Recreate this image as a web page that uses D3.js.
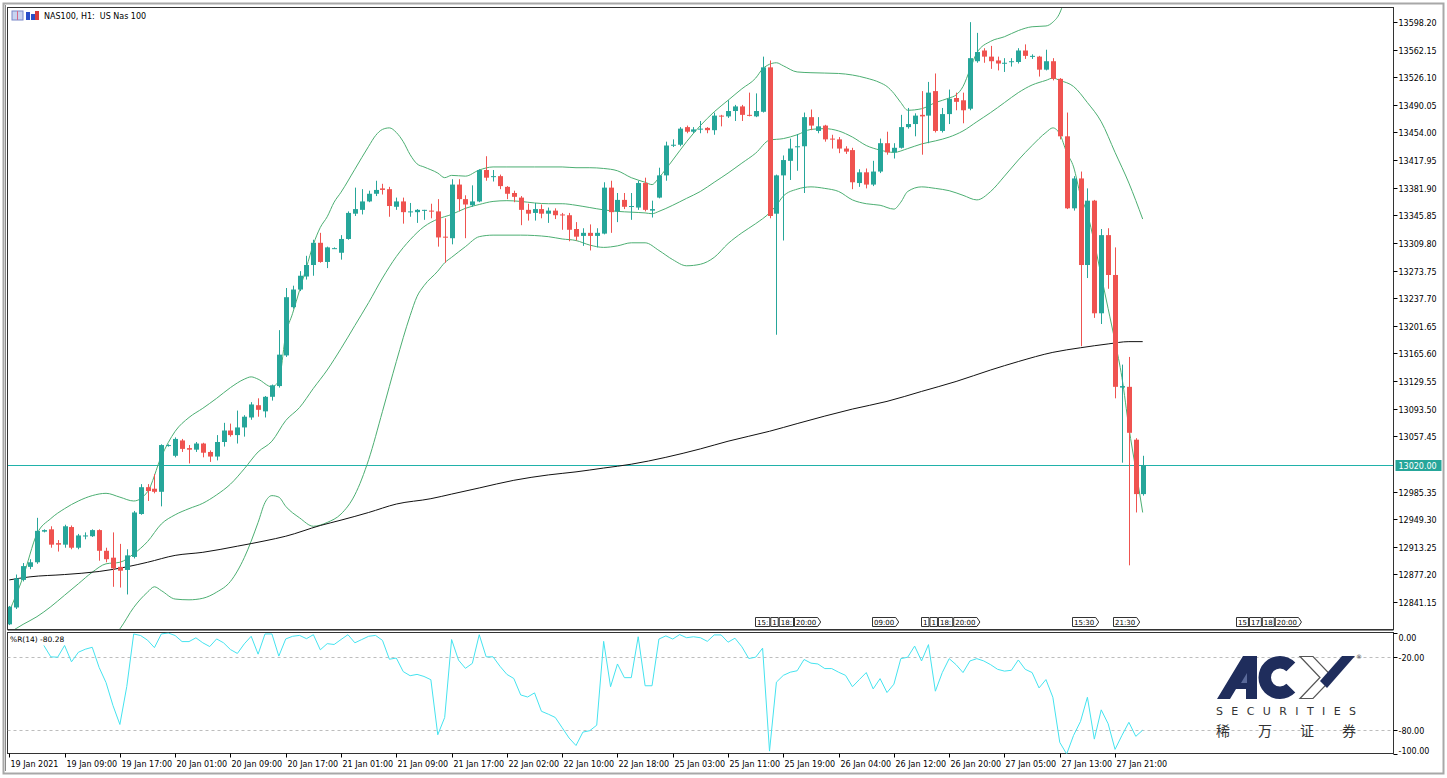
<!DOCTYPE html>
<html><head><meta charset="utf-8">
<script src="https://cdn.jsdelivr.net/npm/d3@7"></script>
<style>
html,body{margin:0;padding:0;background:#fff;}
svg{display:block;font-family:"DejaVu Sans",Tahoma,sans-serif;}
text{white-space:pre;}
</style></head><body>
<svg id="chart" width="1447" height="778"></svg>
<script>
// ---------- DATA ----------
const symbolTitle = "NAS100, H1:  US Nas 100";
const openP = [
12812,12834,12870,12887,12893,12933,12936,12918,12916,12939,
12912,12927,12927,12935,12908,12899,12887,12883,12900,12956,
12991,12989,12985,13045,13032,13052,13042,13040,13048,13037,
13031,13050,13065,13059,13069,13082,13098,13090,13109,13123,
13163,13226,13249,13266,13281,13310,13285,13303,13297,13315,
13348,13353,13364,13374,13381,13380,13357,13364,13350,13350,
13352,13352,13351,13318,13316,13386,13367,13359,13364,13405,
13396,13397,13383,13375,13369,13353,13349,13354,13348,13352,
13347,13346,13328,13319,13323,13319,13322,13382,13351,13366,
13357,13356,13388,13352,13369,13398,13437,13438,13461,13455,
13458,13460,13457,13476,13475,13482,13488,13477,13475,13481,
13539,13348,13398,13417,13435,13436,13474,13456,13463,13446,
13445,13433,13431,13388,13402,13386,13403,13440,13428,13434,
13461,13465,13477,13476,13508,13456,13478,13499,13496,13485,
13547,13561,13553,13548,13544,13546,13546,13561,13553,13553,
13536,13547,13524,13449,13355,13394,13281,13365,13218,13320,
13268,13121,13122,13053,12982];
const highP = [
12836,12877,12892,12897,12951,12936,12940,12922,12942,12941,
12930,12932,12936,12936,12912,12932,12917,12910,12960,12995,
12995,13008,13047,13047,13056,13054,13046,13050,13049,13039,
13059,13075,13074,13091,13085,13102,13107,13110,13125,13196,
13251,13254,13273,13293,13314,13323,13305,13304,13320,13351,
13382,13380,13378,13391,13387,13383,13369,13369,13362,13354,
13353,13361,13367,13342,13393,13393,13372,13385,13406,13423,
13405,13399,13384,13378,13371,13361,13362,13360,13356,13355,
13349,13349,13337,13329,13334,13329,13389,13391,13375,13375,
13375,13391,13395,13365,13408,13442,13445,13461,13463,13461,
13469,13461,13480,13477,13496,13490,13490,13506,13505,13553,
13548,13399,13424,13446,13452,13480,13484,13474,13464,13451,
13448,13436,13434,13406,13407,13417,13446,13455,13440,13477,
13486,13479,13508,13520,13531,13486,13510,13506,13506,13598,
13584,13564,13567,13553,13551,13551,13564,13569,13556,13554,
13562,13551,13525,13480,13397,13403,13381,13366,13328,13329,
13304,13151,13161,13055,13032];
const lowP = [
12811,12832,12868,12884,12891,12932,12912,12907,12912,12910,
12910,12923,12926,12895,12893,12861,12860,12851,12898,12955,
12973,12983,12966,13044,13030,13037,13022,13037,13030,13024,
13026,13044,13057,13048,13057,13079,13083,13082,13104,13121,
13161,13224,13247,13262,13267,13284,13277,13302,13288,13314,
13345,13347,13363,13371,13373,13344,13353,13335,13344,13336,
13340,13342,13305,13284,13308,13351,13316,13357,13363,13391,
13390,13380,13367,13363,13333,13339,13339,13342,13336,13341,
13327,13312,13313,13306,13300,13304,13321,13323,13337,13354,
13340,13353,13351,13343,13368,13391,13435,13436,13453,13453,
13453,13453,13451,13462,13473,13469,13469,13475,13474,13480,
13342,13190,13313,13392,13404,13375,13457,13453,13442,13433,
13427,13426,13380,13383,13381,13384,13401,13425,13420,13433,
13459,13449,13425,13440,13454,13454,13465,13483,13466,13483,
13545,13545,13537,13535,13533,13540,13544,13550,13550,13527,
13535,13522,13445,13354,13352,13175,13264,13212,13204,13250,
13107,13023,12889,12958,12980];
const closeP = [
12835,12872,12888,12893,12934,12935,12916,12916,12940,12912,
12928,12928,12935,12908,12897,12885,12882,12902,12958,12991,
12986,12985,13046,13046,13054,13041,13040,13048,13036,13031,
13050,13065,13059,13069,13083,13099,13092,13109,13124,13164,
13239,13249,13267,13281,13310,13285,13304,13303,13315,13349,
13354,13364,13374,13379,13379,13358,13364,13350,13351,13353,
13353,13351,13317,13317,13386,13367,13360,13364,13405,13395,
13397,13384,13374,13370,13353,13348,13354,13348,13352,13346,
13346,13327,13318,13323,13319,13323,13382,13350,13366,13357,
13358,13388,13353,13354,13398,13437,13438,13459,13455,13458,
13459,13457,13476,13475,13482,13488,13477,13476,13482,13539,
13345,13398,13418,13433,13436,13474,13463,13462,13445,13445,
13433,13429,13389,13402,13386,13403,13440,13428,13434,13461,
13465,13476,13475,13506,13456,13478,13498,13494,13483,13551,
13559,13553,13547,13544,13545,13547,13561,13554,13554,13536,
13547,13524,13449,13355,13394,13281,13365,13218,13320,13268,
13122,13123,13062,12982,13020];

// Bollinger Bands (20) read at [bar, price]
const bbUpper = [[0,12829],[2,12874],[4,12930],[6,12950],[8,12963],[10,12973],[12,12980],[14,12983],[16,12978],[18,12973],[20,12985],[22,13031],[24,13064],[26,13082],[28,13094],[30,13107],[32,13121],[34,13132],[35,13135],[36,13132],[38,13122],[39,13130],[40,13190],[41,13218],[42,13248],[43,13278],[44,13308],[45,13330],[46,13344],[47,13363],[48,13376],[50,13406],[52,13436],[53,13450],[54,13458],[55,13460],[56,13454],[57,13442],[58,13425],[59,13413],[60,13409],[62,13401],[63,13395],[64,13398],[66,13397],[68,13405],[70,13409],[72,13409],[76,13409],[80,13409],[82,13408],[84,13408],[86,13407],[88,13404],[90,13395],[92,13389],[93,13386],[94,13395],[96,13418],[98,13442],[100,13463],[102,13481],[104,13496],[106,13511],[108,13525],[109,13537],[110,13543],[111,13545],[112,13541],[114,13533],[116,13532],[120,13531],[122,13529],[124,13525],[126,13519],[127,13514],[128,13505],[129,13493],[130,13483],[132,13485],[134,13493],[136,13499],[137,13503],[138,13514],[139,13536],[140,13558],[142,13573],[144,13579],[146,13587],[148,13592],[150,13593],[151,13598],[152,13610],[153,13638],[154,13680]];
const bbMiddle = [[0,12801],[2,12812],[4,12822],[6,12835],[8,12850],[10,12865],[12,12880],[14,12891],[16,12893],[18,12904],[20,12920],[22,12943],[24,12955],[26,12963],[28,12970],[30,12981],[32,12995],[34,13015],[36,13037],[38,13051],[40,13078],[42,13095],[44,13120],[46,13144],[48,13172],[50,13202],[52,13232],[54,13264],[56,13292],[58,13314],[60,13331],[62,13341],[64,13347],[66,13355],[68,13360],[70,13364],[72,13365],[74,13364],[76,13362],[78,13361],[80,13361],[82,13359],[84,13356],[86,13353],[88,13351],[90,13350],[92,13349],[93,13348],[94,13351],[96,13359],[98,13368],[100,13377],[102,13389],[104,13401],[106,13414],[108,13427],[110,13444],[112,13446],[114,13451],[116,13458],[118,13459],[120,13456],[122,13448],[124,13437],[126,13431],[128,13428],[130,13433],[132,13439],[134,13443],[136,13448],[138,13456],[140,13468],[142,13480],[144,13493],[146,13506],[148,13516],[150,13522],[151,13525],[152,13522],[154,13514],[156,13493],[158,13468],[160,13428],[162,13388],[164,13341]];
const bbLower = [[15,12795],[16,12806],[18,12834],[20,12854],[21,12861],[22,12856],[24,12845],[26,12844],[28,12846],[30,12854],[32,12868],[34,12899],[36,12945],[37,12971],[38,12980],[39,12978],[40,12966],[42,12951],[44,12940],[46,12945],[48,12956],[50,12981],[52,13027],[54,13090],[56,13155],[58,13215],[59,13240],[60,13254],[62,13273],[63,13284],[64,13291],[66,13305],[68,13318],[70,13320],[74,13320],[78,13318],[80,13315],[82,13313],[84,13307],[86,13304],[88,13306],[90,13310],[92,13310],[94,13300],[96,13288],[98,13280],[100,13282],[102,13291],[104,13309],[106,13323],[108,13335],[110,13349],[111,13359],[112,13371],[114,13380],[116,13383],[118,13381],[120,13377],[122,13366],[124,13361],[126,13359],[128,13354],[129,13363],[130,13377],[132,13383],[134,13381],[136,13378],[138,13372],[140,13366],[142,13377],[144,13397],[146,13418],[148,13437],[150,13454],[151,13460],[152,13452],[153,13428],[154,13409],[155,13372],[156,13348],[157,13310],[158,13267],[159,13224],[160,13181],[161,13134],[162,13069],[163,13014],[164,12958]];
// Moving average (200) read at [bar, price]
const ma200 = [[0,12870],[3,12874],[8,12877],[13,12881],[17,12887],[20,12893],[24,12902],[28,12906],[33,12914],[37,12921],[40,12927],[45,12941],[48,12948],[52,12958],[56,12969],[61,12976],[64,12982],[68,12990],[73,13000],[78,13007],[82,13011],[86,13016],[90,13021],[95,13030],[100,13041],[104,13051],[110,13064],[114,13074],[122,13093],[127,13103],[132,13116],[137,13129],[142,13144],[146,13155],[151,13167],[155,13173],[159,13178],[162,13181],[164,13181]];
// Williams %R(14), from bar 5
const wprStartBar = 5;
const wprValues = [
-10.3,-19.7,-20,-10.3,-23.8,-15.9,-13.4,-11.8,-28.5,-41,
-59.9,-75.6,-44.2,-0.8,-2.1,-5.9,-12.1,-0.8,0,-2.1,
-7.1,-7.1,-4,-8.1,-11.2,-4.9,-8.1,-13.7,-16.9,-9,
-2.7,-17.5,-0.8,-0.8,-19.1,-4.9,-2.7,-2,-4.7,-1.4,
-13.9,-8.8,-9.5,-5.4,-1.4,-8.1,-5.4,-2.7,-2,-6.1,
-21.7,-20.7,-31.9,-35.3,-34.2,-35.9,-38.6,-84.1,-69.8,-5.4,
-22.4,-29.2,-25.1,-1.4,-19.7,-19.7,-27.5,-34.2,-37.6,-51.2,
-52.9,-49.5,-64.7,-67.1,-69.8,-78.3,-86.8,-93,-81.9,-80.7,
-76.2,-6.9,-44.4,-25.6,-36.9,-36.9,-3.1,-43.6,-43.6,-5,
-2.4,-5,-1.3,-3.9,-3.1,-3.9,-6.9,-1.6,-1.6,-7.6,
-4.3,-11.4,-21.1,-20,-12.5,-97.6,-40.6,-35,-32.4,-31.2,
-21.9,-24.9,-25.6,-29.4,-29.4,-32.4,-35,-44.4,-38.5,-32.7,
-46.2,-37.7,-49.2,-42.3,-21.2,-20,-10.8,-23.1,-9.6,-48.1,
-32.7,-21.2,-26.2,-32.7,-23.1,-21.2,-23.1,-26.2,-30,-31.5,
-30.8,-22.3,-30,-32.7,-45.4,-38.5,-53.1,-90.4,-100,-84.6,
-73.1,-53.1,-87.7,-63.5,-75,-96.2,-84.6,-73.8,-85.4,-80.28];
const wprLabel = "%R(14) -80.28";
const wprLevels = [-20, -80];
const wprAxisLabels = [[0,"0.00"],[-20,"-20.00"],[-80,"-80.00"],[-100,"-100.00"]];

const priceTicks = [13598.20,13562.15,13526.10,13490.05,13454.00,13417.95,13381.90,13345.85,13309.80,13273.75,13237.70,13201.65,13165.60,13129.55,13093.50,13057.45,12985.35,12949.30,12913.25,12877.20,12841.15];
const currentPrice = 13020.00;
const timeLabels = ["19 Jan 2021","19 Jan 09:00","19 Jan 17:00","20 Jan 01:00","20 Jan 09:00","20 Jan 17:00","21 Jan 01:00","21 Jan 09:00","21 Jan 17:00","22 Jan 02:00","22 Jan 10:00","22 Jan 18:00","25 Jan 03:00","25 Jan 11:00","25 Jan 19:00","26 Jan 04:00","26 Jan 12:00","26 Jan 20:00","27 Jan 05:00","27 Jan 13:00","27 Jan 21:00"];
const barsPerTimeLabel = 8;
const eventGroups = [
  {bar:107.9, labels:["15:","1","18:","20:00"]},
  {bar:124.8, labels:["09:00"]},
  {bar:131.9, labels:["1","1","18:","20:00"]},
  {bar:153.8, labels:["15:30"]},
  {bar:159.7, labels:["21:30"]},
  {bar:177.5, labels:["15","17","18","20:00"]}
];

// ---------- LAYOUT ----------
const svg = d3.select("#chart");
const L = 7.5, R = 1393.5, mainTop = 7.5, mainBot = 629.5, subTop = 632.5, subBot = 753.5;
const bull = "#26a69a", bear = "#ef5350", bandColor = "#4cae72", wprColor = "#45e3ef";

const x = d3.scaleLinear().domain([0, openP.length - 1]).range([9.3, 1142.7]);
const y = d3.scaleLinear().domain([12841.15, 13598.20]).range([602, 22]);
const yw = d3.scaleLinear().domain([-100, 0]).range([754, 633]);

svg.append("rect").attr("width",1447).attr("height",778).attr("fill","#fff");
const defs = svg.append("defs");
defs.append("clipPath").attr("id","clipMain").append("rect").attr("x",L).attr("y",mainTop).attr("width",R-L).attr("height",mainBot-mainTop);
defs.append("clipPath").attr("id","clipSub").append("rect").attr("x",L).attr("y",subTop).attr("width",R-L).attr("height",subBot-subTop);

// window frame
svg.append("rect").attr("x",3.5).attr("y",3.5).attr("width",1440).attr("height",770).attr("fill","none").attr("stroke","#a8a8a8").attr("stroke-width",2);
svg.append("rect").attr("x",1394).attr("y",5).attr("width",48).attr("height",766).attr("fill","#fff");

// ---------- MAIN PANEL ----------
const gMain = svg.append("g").attr("clip-path","url(#clipMain)");

// current price line
gMain.append("line").attr("x1",L).attr("x2",R).attr("y1",Math.round(y(currentPrice))+0.5).attr("y2",Math.round(y(currentPrice))+0.5)
  .attr("stroke","#20b2aa").attr("stroke-width",1);

const lineGen = (ys) => d3.line().x(d=>x(d[0])).y(d=>ys(d[1])).curve(d3.curveMonotoneX);
[bbUpper,bbMiddle,bbLower].forEach(b=>{
  gMain.append("path").attr("d",lineGen(y)(b)).attr("fill","none").attr("stroke",bandColor).attr("stroke-width",1);
});
gMain.append("path").attr("d",lineGen(y)(ma200)).attr("fill","none").attr("stroke","#111").attr("stroke-width",1);

const bars = d3.range(openP.length).map(i=>({i,o:openP[i],h:highP[i],l:lowP[i],c:closeP[i]}));
const gC = gMain.append("g");
gC.selectAll("line.wick").data(bars).join("line").attr("class","wick")
  .attr("x1",d=>Math.round(x(d.i))+0.5).attr("x2",d=>Math.round(x(d.i))+0.5)
  .attr("y1",d=>y(d.h)).attr("y2",d=>y(d.l))
  .attr("stroke",d=>d.c>=d.o?bull:bear).attr("stroke-width",1);
gC.selectAll("rect.body").data(bars).join("rect").attr("class","body")
  .attr("x",d=>Math.round(x(d.i))-2).attr("width",5)
  .attr("y",d=>y(Math.max(d.o,d.c)))
  .attr("height",d=>Math.max(1,y(Math.min(d.o,d.c))-y(Math.max(d.o,d.c))))
  .attr("fill",d=>d.c>=d.o?bull:bear);

// event markers
const gEv = svg.append("g").attr("font-size",7).attr("fill","#000");
eventGroups.forEach(g=>{
  let cx = Math.round(x(g.bar))+0.5;
  g.labels.forEach((lab,k)=>{
    const t = gEv.append("text").attr("x",cx+1.5).attr("y",625).text(lab);
    const w = t.node().getComputedTextLength()+3;
    const last = k===g.labels.length-1;
    const pts = last ? [[cx,617.5],[cx+w,617.5],[cx+w+3,622],[cx+w,626.5],[cx,626.5]] : [[cx,617.5],[cx+w,617.5],[cx+w,626.5],[cx,626.5]];
    gEv.insert("path","text").attr("d","M"+pts.map(p=>p.join(",")).join("L")+"Z").attr("fill","#fff").attr("stroke","#333").attr("stroke-width",1);
    cx += w + 1;
  });
});

// frames
svg.append("rect").attr("x",L).attr("y",mainTop).attr("width",R-L).attr("height",mainBot-mainTop).attr("fill","none").attr("stroke","#333");
svg.append("line").attr("x1",L).attr("x2",R).attr("y1",630.5).attr("y2",630.5).attr("stroke","#888");
svg.append("line").attr("x1",5.5).attr("x2",5.5).attr("y1",5).attr("y2",771).attr("stroke","#888");

// title
svg.append("rect").attr("x",12).attr("y",11).attr("width",11).attr("height",9).attr("fill","#c9d4f0").attr("stroke","#7a88c8");
svg.append("line").attr("x1",17.5).attr("x2",17.5).attr("y1",11).attr("y2",20).attr("stroke","#d46a8a");
svg.append("rect").attr("x",26).attr("y",12).attr("width",4).attr("height",8).attr("fill","#2a4fc8");
svg.append("rect").attr("x",31).attr("y",14).attr("width",4).attr("height",6).attr("fill","#2a4fc8");
svg.append("rect").attr("x",35).attr("y",11).attr("width",4).attr("height",9).attr("fill","#d83a3a");
svg.append("text").attr("x",44).attr("y",19).attr("font-size",8).attr("fill","#000").text(symbolTitle);

// price axis
const gPA = svg.append("g").attr("font-size",8).attr("fill","#000");
priceTicks.forEach(p=>{
  const yy = Math.round(y(p))+0.5;
  gPA.append("line").attr("x1",R).attr("x2",R+4).attr("y1",yy).attr("y2",yy).attr("stroke","#000");
  gPA.append("text").attr("x",R+5).attr("y",yy+3).text(p.toFixed(2));
});
{
  const yy = Math.round(y(currentPrice))+0.5;
  svg.append("rect").attr("x",R+2).attr("y",yy-5.5).attr("width",46).attr("height",11).attr("fill","#26a69a");
  svg.append("text").attr("x",R+5).attr("y",yy+3).attr("font-size",8).attr("fill","#fff").text(currentPrice.toFixed(2));
}

// ---------- %R PANEL ----------
svg.append("rect").attr("x",L).attr("y",subTop).attr("width",R-L).attr("height",subBot-subTop).attr("fill","none").attr("stroke","#333");
const gSub = svg.append("g").attr("clip-path","url(#clipSub)");
wprLevels.forEach(v=>{
  gSub.append("line").attr("x1",L).attr("x2",R).attr("y1",Math.round(yw(v))+0.5).attr("y2",Math.round(yw(v))+0.5)
    .attr("stroke","#bdbdbd").attr("stroke-dasharray","3,3");
});
const wprPts = wprValues.map((v,k)=>[wprStartBar+k, v]);
gSub.append("path").attr("d",d3.line().x(d=>x(d[0])).y(d=>yw(d[1]))(wprPts))
  .attr("fill","none").attr("stroke",wprColor).attr("stroke-width",1);
svg.append("text").attr("x",10).attr("y",642).attr("font-size",7.5).attr("fill","#000").text(wprLabel);

const gWA = svg.append("g").attr("font-size",8).attr("fill","#000");
wprAxisLabels.forEach(([v,lab])=>{
  const yy = Math.round(yw(v))+0.5;
  gWA.append("line").attr("x1",R).attr("x2",R+4).attr("y1",yy).attr("y2",yy).attr("stroke","#000");
  const ty = v===0 ? yy+7 : (v===-100 ? yy-1 : yy+3);
  gWA.append("text").attr("x",R+5).attr("y",ty).text(lab);
});

// ---------- LOGO ----------
const navy = "#1f2d5c";
const gLogo = svg.append("g");
gLogo.append("path").attr("d","M1217,699 L1243,656 L1257,656 L1257,699 L1246,699 L1246,689 L1236,689 L1230,699 Z").attr("fill",navy);
gLogo.append("path").attr("d","M1241,683 L1247,673 L1247,683 Z").attr("fill","#5a6a9a");
gLogo.append("path").attr("transform","translate(1280,677.5)")
  .attr("d",d3.arc().innerRadius(9).outerRadius(21.5).startAngle(Math.PI/2+0.78).endAngle(Math.PI/2+2*Math.PI-0.78)()).attr("fill",navy);
gLogo.append("path").attr("d","M1300,656.5 L1313,656.5 L1333,677.5 L1313,698.5 L1300,698.5 L1320,677.5 Z").attr("fill","#fff").attr("stroke","#555").attr("stroke-width",1.2);
gLogo.append("path").attr("d","M1320,681 L1342,656 L1355,656 L1327,688 Z").attr("fill",navy);
gLogo.append("text").attr("x",1356).attr("y",659).attr("font-size",6).attr("fill","#333").text("®");
gLogo.append("text").attr("x",1216).attr("y",715).attr("font-size",11).attr("fill","#333")
  .attr("textLength",140).attr("lengthAdjust","spacing").text("SECURITIES");
["稀","万","证","券"].forEach((ch,k)=>{
  gLogo.append("text").attr("x",1216+k*42).attr("y",736).attr("font-size",14)
    .attr("font-family","'Noto Sans CJK SC',sans-serif").attr("fill","#333").text(ch);
});

// ---------- TIME AXIS ----------
const gT = svg.append("g").attr("font-size",8).attr("fill","#000");
timeLabels.forEach((lab,k)=>{
  const xx = Math.round(x(k*barsPerTimeLabel))+0.5;
  gT.append("line").attr("x1",xx).attr("x2",xx).attr("y1",subBot).attr("y2",subBot+4).attr("stroke","#000");
  gT.append("text").attr("x",xx+1).attr("y",767).text(lab);
});
</script>
</body></html>
